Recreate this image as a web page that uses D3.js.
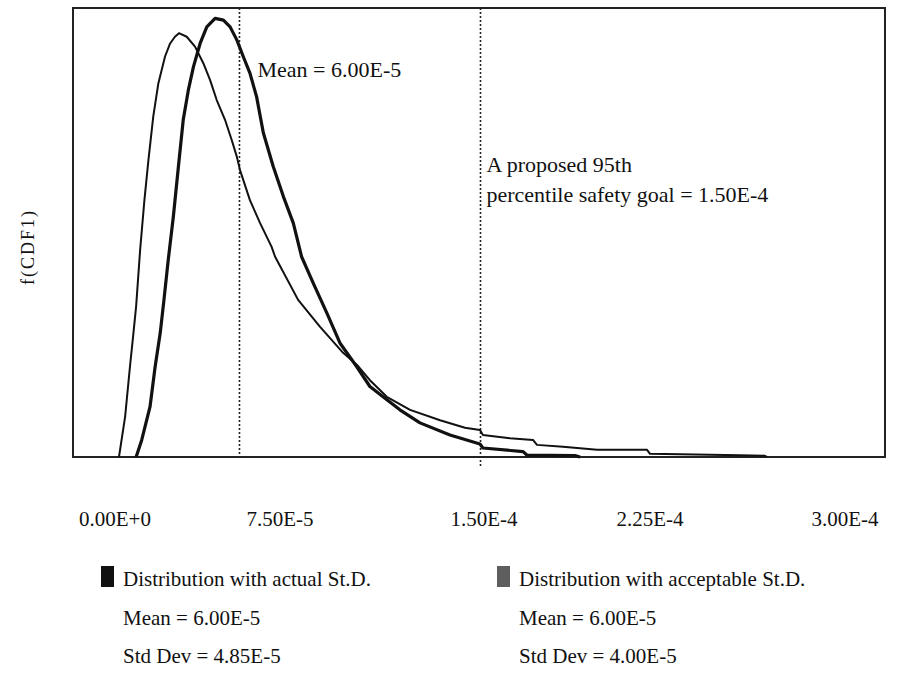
<!DOCTYPE html>
<html>
<head>
<meta charset="utf-8">
<script src="https://cdn.jsdelivr.net/npm/d3@7"></script>
<style>
  body { margin: 0; background: #fff; }
  text { font-family: "Liberation Serif", "Times New Roman", serif; fill: #111; }
</style>
</head>
<body>
<svg id="chart" width="906" height="698"></svg>
<script>
// x values in units of 1E-5, y = relative density f(CDF1)
var actualX = [1.50, 1.73, 1.91, 2.04, 2.14, 2.29, 2.45, 2.60, 2.78, 2.97, 3.22, 3.41, 3.59, 3.74, 4.03, 4.34, 4.65, 4.90, 5.15, 5.46, 5.71, 5.90, 6.02, 6.39, 6.77, 7.20, 7.33, 8.19, 9.01, 9.87, 10.39, 10.87, 11.50, 12.37, 13.49, 14.42, 14.98, 15.09, 16.10, 16.96, 17.11, 18.08, 19.35, 21.22, 21.33, 24.69, 25.60, 25.70];
var actualY = [0, 0.090, 0.201, 0.276, 0.335, 0.461, 0.572, 0.661, 0.758, 0.832, 0.892, 0.921, 0.936, 0.944, 0.936, 0.914, 0.877, 0.840, 0.795, 0.751, 0.706, 0.669, 0.639, 0.572, 0.521, 0.468, 0.446, 0.350, 0.290, 0.232, 0.205, 0.171, 0.134, 0.105, 0.082, 0.065, 0.060, 0.049, 0.042, 0.038, 0.027, 0.023, 0.016, 0.016, 0.007, 0.004, 0.003, 0];

var acceptX = [2.14, 2.35, 2.66, 2.85, 3.04, 3.18, 3.34, 3.53, 3.72, 3.90, 4.09, 4.28, 4.53, 4.78, 5.09, 5.40, 5.65, 5.90, 6.14, 6.39, 6.64, 6.89, 7.26, 7.64, 8.01, 8.32, 8.75, 9.26, 9.75, 10.38, 10.87, 11.36, 11.99, 12.74, 13.86, 14.98, 15.09, 16.59, 16.74, 18.53, 18.72];
var acceptY = [0, 0.038, 0.112, 0.201, 0.276, 0.350, 0.439, 0.535, 0.647, 0.751, 0.817, 0.869, 0.921, 0.958, 0.977, 0.973, 0.958, 0.929, 0.892, 0.855, 0.802, 0.722, 0.647, 0.580, 0.521, 0.446, 0.388, 0.321, 0.254, 0.201, 0.157, 0.134, 0.105, 0.076, 0.049, 0.029, 0.020, 0.012, 0.004, 0.003, 0];

var tickLabels = ["0.00E+0", "7.50E-5", "1.50E-4", "2.25E-4", "3.00E-4"];
var refLines = [6.0, 15.0];

var legendNames = ["Distribution with actual St.D.", "Distribution with acceptable St.D."];
var legendMeans = ["Mean = 6.00E-5", "Mean = 6.00E-5"];
var legendStds = ["Std Dev = 4.85E-5", "Std Dev = 4.00E-5"];
var legendColors = ["#111", "#5e5e5e"];

// layout (the original tick labels sit at hand-placed spots)
var tickLabelX = [115, 280, 484, 650, 845];

var svg = d3.select("#chart");

var frame = { left: 73, right: 885, top: 8, bottom: 457 };

var x = d3.scaleLinear().domain([0, 30]).range([78.8, 882.2]);
var y = d3.scaleLinear().domain([0, 1]).range([frame.bottom, frame.top]);

// plot frame
svg.append("rect")
    .attr("x", frame.left)
    .attr("y", frame.top)
    .attr("width", frame.right - frame.left)
    .attr("height", frame.bottom - frame.top)
    .attr("fill", "none")
    .attr("stroke", "#222")
    .attr("stroke-width", 2);

// dotted reference lines (mean and 95th percentile goal)
svg.selectAll(".ref")
    .data(refLines)
    .enter()
    .append("line")
    .attr("class", "ref")
    .attr("x1", function(d) { return x(d); })
    .attr("x2", function(d) { return x(d); })
    .attr("y1", frame.top)
    .attr("y2", function(d, i) { return i == 0 ? frame.bottom + 3 : frame.bottom + 11; })
    .attr("stroke", "#222")
    .attr("stroke-width", 1.6)
    .attr("stroke-dasharray", "2,2");

var line = d3.line()
    .x(function(d) { return x(d[0]); })
    .y(function(d) { return y(d[1]); });

var actualPts = d3.zip(actualX, actualY);
var acceptPts = d3.zip(acceptX, acceptY);

svg.append("path")
    .datum(actualPts)
    .attr("d", line)
    .attr("fill", "none")
    .attr("stroke", "#111")
    .attr("stroke-width", 2)
    .attr("stroke-linejoin", "round");

svg.append("path")
    .datum(acceptPts)
    .attr("d", line)
    .attr("fill", "none")
    .attr("stroke", "#111")
    .attr("stroke-width", 3.2)
    .attr("stroke-linejoin", "round");

// annotations
svg.append("text")
    .attr("x", x(refLines[0]) + 18)
    .attr("y", 77)
    .style("font-size", "22px")
    .text("Mean = 6.00E-5");

svg.append("text")
    .attr("x", x(refLines[1]) + 6)
    .attr("y", 172)
    .style("font-size", "22px")
    .text("A proposed 95th");

svg.append("text")
    .attr("x", x(refLines[1]) + 6)
    .attr("y", 202)
    .style("font-size", "22px")
    .text("percentile safety goal = 1.50E-4");

// y axis title
svg.append("text")
    .attr("transform", "translate(34,247) rotate(-90)")
    .attr("text-anchor", "middle")
    .style("font-size", "18px")
    .style("letter-spacing", "2px")
    .text("f(CDF1)");

// x tick labels
svg.selectAll(".tick-label")
    .data(tickLabels)
    .enter()
    .append("text")
    .attr("class", "tick-label")
    .attr("x", function(d, i) { return tickLabelX[i]; })
    .attr("y", 526)
    .attr("text-anchor", "middle")
    .style("font-size", "21px")
    .text(function(d) { return d; });

// legend
var legendX = d3.scalePoint().domain([0, 1]).range([101, 497]);
var lg = svg.selectAll(".legend")
    .data(legendNames)
    .enter()
    .append("g")
    .attr("class", "legend")
    .attr("transform", function(d, i) { return "translate(" + legendX(i) + ",0)"; });

lg.append("rect")
    .attr("x", 0)
    .attr("y", 566)
    .attr("width", 13)
    .attr("height", 21)
    .attr("fill", function(d, i) { return legendColors[i]; });

lg.append("text")
    .attr("x", 22)
    .attr("y", 586)
    .style("font-size", "21px")
    .text(function(d) { return d; });

lg.append("text")
    .attr("x", 22)
    .attr("y", 625)
    .style("font-size", "21px")
    .text(function(d, i) { return legendMeans[i]; });

lg.append("text")
    .attr("x", 22)
    .attr("y", 663)
    .style("font-size", "21px")
    .text(function(d, i) { return legendStds[i]; });
</script>
</body>
</html>
